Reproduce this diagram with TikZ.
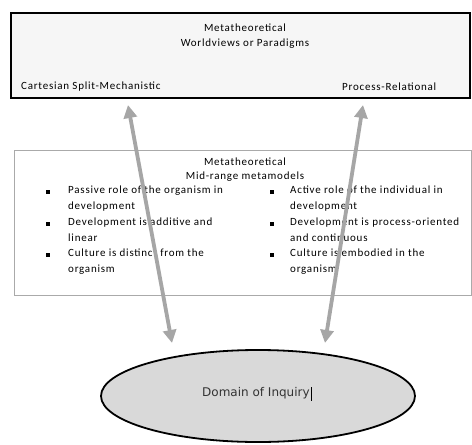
\documentclass[tikz,border=0pt]{standalone}
\usepackage{fontspec}
\setmainfont{Carlito}[LetterSpace=7]
\newfontfamily\domfont{DejaVu Sans}
\usetikzlibrary{shapes.geometric,arrows.meta}
\definecolor{boxfill}{RGB}{246,246,246}
\definecolor{ellfill}{RGB}{217,217,217}
\definecolor{arrowgray}{RGB}{166,166,166}
\definecolor{midline}{RGB}{170,170,170}
\tikzset{
  txt/.style={font=\fontsize{11}{12}\selectfont, inner sep=0pt},
  item/.style={txt, anchor=north west, align=left},
  bul/.style={fill=black, minimum size=3.4pt, inner sep=0pt},
  dblarrow/.style={draw=arrowgray, line width=3.8pt,
     {Triangle[length=13pt,width=13pt]}-{Triangle[length=13pt,width=13pt]}},
}
\begin{document}
\begin{tikzpicture}[x=1pt,y=-1pt]
\useasboundingbox (0,0) rectangle (472,445);
% top box
\node[draw=black, line width=2.5pt, fill=boxfill, minimum width=459pt, minimum height=85pt, inner sep=0pt] (top) at (240.5,55.5) {};
\node[txt] (t1) at (245,28) {Metatheoretical};
\node[txt] (t2) at (245,44) {Worldviews or Paradigms};
\node[txt, anchor=west] (cart) at (21,87) {Cartesian Split-Mechanistic};
\node[txt, anchor=west] (proc) at (342,87) {Process-Relational};
% middle box
\node[draw=midline, line width=0.9pt, fill=white, minimum width=457pt, minimum height=145pt, inner sep=0pt] (mid) at (242.5,222.5) {};
\node[txt] (m1) at (245,162) {Metatheoretical};
\node[txt] (m2) at (245,177) {Mid-range metamodels};
% left column
\node[bul] (bl1) at (48,192) {};
\node[bul] (bl2) at (48,224) {};
\node[bul] (bl3) at (48,255) {};
\node[item] (il1) at (68,186) {Passive role of the organism in\\[3.5pt]development};
\node[item] (il2) at (68,218) {Development is additive and\\[3.5pt]linear};
\node[item] (il3) at (68,249) {Culture is distinct from the\\[3.5pt]organism};
% right column
\node[bul] (br1) at (272,192) {};
\node[bul] (br2) at (272,224) {};
\node[bul] (br3) at (272,255) {};
\node[item] (ir1) at (290,186) {Active role of the individual in\\[3.5pt]development};
\node[item] (ir2) at (290,218) {Development is process-oriented\\[3.5pt]and continuous};
\node[item] (ir3) at (290,249) {Culture is embodied in the\\[3.5pt]organism};
% ellipse
\node[ellipse, draw=black, line width=1.8pt, fill=ellfill, minimum width=314pt, minimum height=92pt, inner sep=0pt] (dom) at (258,396) {};
\node[font=\domfont\fontsize{12}{14}\selectfont, inner sep=0pt, anchor=west, text=black!80] (domt) at (202,393) {Domain of Inquiry};
\draw[line width=0.6pt] ([xshift=1pt,yshift=6pt]domt.east) -- ([xshift=1pt,yshift=-8pt]domt.east);
% arrows
\coordinate (la) at (172,343);
\coordinate (lb) at (128,105);
\coordinate (ra) at (325,343);
\coordinate (rb) at (363,105);
\draw[dblarrow] (la) -- (lb);
\draw[dblarrow] (ra) -- (rb);
\end{tikzpicture}
\end{document}
